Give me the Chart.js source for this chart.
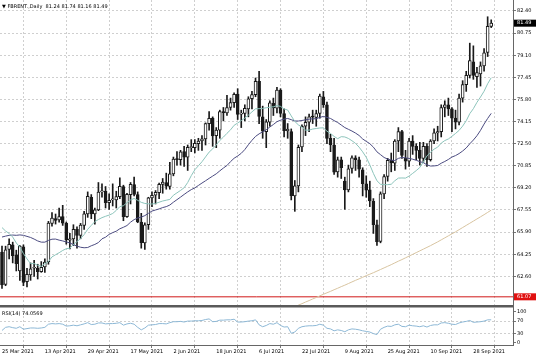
<!DOCTYPE html>
<html><head><meta charset="utf-8">
<script src="https://cdn.jsdelivr.net/npm/chart.js@4.4.0/dist/chart.umd.min.js"></script>
<style>
html,body{margin:0;padding:0;background:#fff;}
#wrap{position:relative;width:536px;height:357px;overflow:hidden;}
canvas{display:block;}
.lbl{position:absolute;font-family:'DejaVu Sans';font-size:5px;color:#000;white-space:pre;line-height:6px;}
</style></head><body>
<div id="wrap"><canvas id="c" width="536" height="357"></canvas>
<div class="lbl" id="t1" style="left:2px;top:3px;"></div>
<div class="lbl" id="t2" style="left:2px;top:310px;"></div>
</div>
<script>
const symbolTitle = '\u25BC FBRENT.,Daily';
const rsiTitle = 'RSI(14)';
const dates = ['25 Mar 2021','26 Mar 2021','29 Mar 2021','30 Mar 2021','31 Mar 2021','1 Apr 2021','5 Apr 2021','6 Apr 2021','7 Apr 2021','8 Apr 2021',
'9 Apr 2021','12 Apr 2021','13 Apr 2021','14 Apr 2021','15 Apr 2021','16 Apr 2021','19 Apr 2021','20 Apr 2021','21 Apr 2021','22 Apr 2021',
'23 Apr 2021','26 Apr 2021','27 Apr 2021','28 Apr 2021','29 Apr 2021','30 Apr 2021','3 May 2021','4 May 2021','5 May 2021','6 May 2021',
'7 May 2021','10 May 2021','11 May 2021','12 May 2021','13 May 2021','14 May 2021','17 May 2021','18 May 2021','19 May 2021','20 May 2021',
'21 May 2021','24 May 2021','25 May 2021','26 May 2021','27 May 2021','28 May 2021','31 May 2021','1 Jun 2021','2 Jun 2021','3 Jun 2021',
'4 Jun 2021','7 Jun 2021','8 Jun 2021','9 Jun 2021','10 Jun 2021','11 Jun 2021','14 Jun 2021','15 Jun 2021','16 Jun 2021','17 Jun 2021',
'18 Jun 2021','21 Jun 2021','22 Jun 2021','23 Jun 2021','24 Jun 2021','25 Jun 2021','28 Jun 2021','29 Jun 2021','30 Jun 2021','1 Jul 2021',
'2 Jul 2021','5 Jul 2021','6 Jul 2021','7 Jul 2021','8 Jul 2021','9 Jul 2021','12 Jul 2021','13 Jul 2021','14 Jul 2021','15 Jul 2021',
'16 Jul 2021','19 Jul 2021','20 Jul 2021','21 Jul 2021','22 Jul 2021','23 Jul 2021','26 Jul 2021','27 Jul 2021','28 Jul 2021','29 Jul 2021',
'30 Jul 2021','2 Aug 2021','3 Aug 2021','4 Aug 2021','5 Aug 2021','6 Aug 2021','9 Aug 2021','10 Aug 2021','11 Aug 2021','12 Aug 2021',
'13 Aug 2021','16 Aug 2021','17 Aug 2021','18 Aug 2021','19 Aug 2021','20 Aug 2021','23 Aug 2021','24 Aug 2021','25 Aug 2021','26 Aug 2021',
'27 Aug 2021','30 Aug 2021','31 Aug 2021','1 Sep 2021','2 Sep 2021','3 Sep 2021','6 Sep 2021','7 Sep 2021','8 Sep 2021','9 Sep 2021',
'10 Sep 2021','13 Sep 2021','14 Sep 2021','15 Sep 2021','16 Sep 2021','17 Sep 2021','20 Sep 2021','21 Sep 2021','22 Sep 2021','23 Sep 2021',
'24 Sep 2021','27 Sep 2021','28 Sep 2021','29 Sep 2021','30 Sep 2021','1 Oct 2021','4 Oct 2021','5 Oct 2021'];

const opens = [64.40,62.00,64.60,64.95,64.20,63.00,64.80,62.20,62.70,63.20,
63.20,62.95,63.30,63.70,66.55,66.90,66.80,67.05,66.55,65.30,
65.40,66.10,65.65,66.40,67.25,68.50,67.25,67.55,68.90,68.95,
68.10,68.30,68.30,68.55,69.30,67.05,68.70,69.45,68.70,66.65,
65.10,66.45,68.45,68.65,68.85,69.45,69.60,69.30,70.25,71.35,
71.30,71.90,71.50,72.20,72.20,72.50,72.70,72.85,74.00,74.40,
73.10,73.50,74.90,74.80,75.20,75.55,76.20,74.70,74.75,75.10,
75.85,76.15,77.15,74.50,73.40,74.10,75.50,75.15,76.50,74.75,
73.45,73.40,68.60,69.35,72.25,73.80,74.10,74.50,74.45,74.75,
76.00,75.40,72.90,72.40,70.40,71.30,69.70,69.05,70.65,71.45,
71.30,70.55,69.50,69.05,68.20,66.45,65.20,68.75,70.05,71.25,
71.05,72.70,73.40,71.40,71.20,72.70,72.30,72.00,71.40,72.30,
71.30,72.70,73.30,73.40,75.20,75.40,75.10,74.40,74.10,75.90,
76.90,77.60,78.60,77.50,77.70,78.30,79.30,81.24];
const highs = [64.85,64.85,65.40,65.15,64.55,64.90,64.95,63.20,63.60,63.80,
63.50,63.70,63.90,66.70,67.35,67.25,67.70,67.90,66.65,65.80,
66.45,66.30,66.55,67.45,68.90,68.70,67.70,69.60,69.50,69.30,
68.75,69.50,68.95,69.95,69.40,68.80,69.60,70.00,68.90,67.30,
66.60,68.50,68.90,69.00,69.55,69.90,70.30,71.10,71.50,71.90,
72.00,72.30,72.40,72.80,72.80,72.90,73.10,74.05,74.90,74.50,
73.70,75.00,75.20,76.10,75.90,76.30,76.60,75.00,75.40,76.00,
76.40,77.40,77.90,75.30,74.30,75.70,75.90,76.70,76.60,75.10,
74.00,73.60,69.75,72.40,73.90,74.50,74.70,75.00,75.00,76.20,
76.40,75.60,73.20,72.90,71.50,71.50,70.00,70.90,71.60,71.60,
71.50,70.70,70.10,69.70,68.40,66.80,68.90,70.20,71.40,71.80,
72.80,73.70,73.50,72.00,72.90,73.10,72.50,72.60,72.60,72.50,
72.80,73.60,73.80,75.40,75.70,75.90,75.20,75.00,76.20,77.20,
77.90,80.00,79.80,78.20,78.60,79.60,81.97,81.74];
const lows = [61.70,61.90,63.90,63.60,63.00,62.30,61.90,61.80,62.30,62.60,
62.40,62.90,62.90,63.50,66.35,66.50,66.65,66.40,65.00,64.65,
64.90,64.70,65.40,66.10,67.00,66.90,66.50,67.50,68.50,67.70,
67.60,67.85,67.70,68.40,66.75,67.00,68.00,68.60,66.60,64.70,
64.60,66.10,67.80,68.00,68.40,68.80,69.10,69.10,70.10,70.90,
70.90,70.80,70.50,71.90,71.80,72.00,72.00,72.40,73.50,72.30,
72.20,72.90,74.20,74.60,75.00,75.20,74.30,73.70,74.20,74.50,
75.10,76.00,74.00,72.90,72.20,73.80,74.60,74.80,74.50,73.00,
72.90,68.30,67.45,68.90,71.90,73.10,73.40,74.00,73.80,74.40,
75.20,72.50,71.90,70.20,70.00,69.90,67.60,68.90,70.30,70.50,
70.00,68.60,68.50,67.80,65.80,64.90,65.10,68.40,69.70,70.40,
70.50,71.90,71.40,70.60,70.80,71.70,71.30,70.90,71.10,70.80,
71.20,72.50,72.70,73.00,74.50,74.60,73.40,73.60,73.90,75.60,
76.40,77.40,77.30,76.70,76.80,77.90,79.00,81.16];
const closes = [61.95,64.57,64.98,64.14,63.54,64.86,62.15,62.74,63.16,63.20,
62.95,63.28,63.67,66.58,66.94,66.77,67.05,66.57,65.32,65.40,
66.11,65.65,66.42,67.27,68.56,67.25,67.56,68.88,68.96,68.09,
68.28,68.32,68.55,69.32,67.05,68.71,69.46,68.71,66.66,65.11,
66.44,68.46,68.65,68.87,69.46,69.63,69.32,70.25,71.35,71.31,
71.89,71.49,72.22,72.22,72.52,72.69,72.86,73.99,74.39,73.08,
73.51,74.90,74.81,75.19,75.56,76.18,74.68,74.76,75.13,75.84,
76.17,77.16,74.53,73.43,74.12,75.55,75.16,76.49,74.76,73.47,
73.59,68.62,69.35,72.23,73.79,74.10,74.50,74.48,74.74,76.05,
75.41,72.89,72.41,70.38,71.29,70.70,69.04,70.63,71.44,71.31,
70.59,69.51,69.03,68.23,66.45,65.18,68.75,70.05,71.25,71.07,
72.70,73.41,71.63,71.20,72.70,72.30,72.00,71.40,72.30,71.30,
72.70,73.30,73.40,75.20,75.40,75.10,74.40,74.10,75.90,76.90,
77.60,78.70,77.60,77.80,78.30,79.28,81.26,81.49];
const ma14 = [66.24,65.98,65.80,65.53,65.09,64.78,64.30,63.90,63.55,63.55,
63.43,63.34,63.54,63.70,64.05,64.21,64.36,64.53,64.66,64.70,
64.98,65.19,65.42,65.71,66.11,66.40,66.68,66.84,66.98,67.08,
67.17,67.29,67.52,67.80,67.87,68.09,68.30,68.41,68.27,68.12,
68.04,68.01,67.99,68.04,68.13,68.22,68.28,68.34,68.65,68.83,
69.01,69.21,69.60,70.11,70.55,70.85,71.15,71.51,71.87,72.11,
72.41,72.74,72.99,73.27,73.53,73.87,74.04,74.22,74.41,74.63,
74.87,75.10,75.11,75.13,75.18,75.22,75.25,75.34,75.28,75.09,
75.01,74.57,74.16,73.90,73.73,73.51,73.51,73.59,73.63,73.67,
73.68,73.43,73.26,73.04,72.87,73.02,73.00,72.89,72.72,72.52,
72.24,71.89,71.48,70.92,70.28,69.73,69.47,69.44,69.44,69.47,
69.73,69.93,69.94,69.93,70.08,70.28,70.49,70.72,71.14,71.58,
71.86,72.09,72.24,72.54,72.73,72.85,73.05,73.26,73.49,73.81,
74.21,74.74,75.11,75.58,75.98,76.41,76.97,77.42];
const ma30 = [65.53,65.60,65.66,65.68,65.66,65.69,65.66,65.58,65.50,65.38,
65.24,65.15,65.15,65.28,65.37,65.38,65.30,65.24,65.17,65.09,
64.97,64.85,64.77,64.73,64.75,64.88,64.98,65.12,65.40,65.52,
65.73,65.86,65.97,66.15,66.26,66.39,66.64,66.83,66.95,67.02,
67.13,67.30,67.47,67.55,67.63,67.73,67.80,67.92,68.13,68.32,
68.51,68.71,68.90,69.07,69.20,69.38,69.56,69.73,69.91,70.08,
70.25,70.47,70.68,70.87,71.16,71.41,71.58,71.78,72.06,72.42,
72.75,73.04,73.23,73.38,73.54,73.74,73.93,74.14,74.25,74.33,
74.38,74.29,74.19,74.19,74.23,74.28,74.33,74.35,74.36,74.46,
74.53,74.46,74.38,74.22,74.08,73.89,73.70,73.57,73.44,73.29,
73.11,72.85,72.67,72.50,72.24,71.89,71.68,71.47,71.35,71.27,
71.24,71.40,71.47,71.44,71.40,71.34,71.26,71.16,71.08,70.92,
70.83,70.84,70.87,71.04,71.17,71.32,71.50,71.61,71.76,71.95,
72.18,72.49,72.77,73.09,73.49,73.96,74.38,74.76];
const ma200 = [null,null,null,null,null,null,null,null,null,null,
null,null,null,null,null,null,null,null,null,null,
null,null,null,null,null,null,null,null,null,null,
null,null,null,null,null,null,null,null,null,null,
null,null,null,null,null,null,null,null,null,null,
null,null,null,null,null,null,null,null,null,null,
null,null,null,null,null,null,null,null,null,null,
null,null,null,null,null,null,null,null,59.87,59.99,
60.10,60.21,60.33,60.45,60.56,60.68,60.79,60.91,61.02,61.14,
61.26,61.37,61.48,61.60,61.71,61.83,61.94,62.06,62.18,62.30,
62.41,62.53,62.65,62.76,62.87,62.99,63.11,63.23,63.35,63.47,
63.60,63.73,63.85,63.98,64.11,64.24,64.37,64.50,64.63,64.76,
64.89,65.03,65.17,65.32,65.47,65.62,65.77,65.92,66.08,66.24,
66.40,66.56,66.72,66.88,67.04,67.20,67.37,67.54];
const rsi = [40,50,52,49,47,52,44,46,48,48,
47,48,50,60,62,61,62,60,54,55,
57,55,58,61,65,59,60,64,64,61,
62,62,63,65,57,61,63,60,50,42,
48,57,58,59,62,62,61,65,68,68,
69,67,70,70,71,71,72,75,77,68,
69,73,73,74,74,76,67,67,68,70,
71,74,58,52,56,62,60,65,56,51,
52,31,35,47,52,54,55,55,56,60,
57,47,45,39,42,40,36,42,45,44,
42,39,37,35,30,27,44,50,54,53,
58,60,53,52,57,55,54,52,55,51,
56,58,58,64,65,63,60,59,64,67,
69,72,66,67,68,70,74,74.0569];
const priceTicks = [82.40,80.75,79.10,77.45,75.80,74.15,72.50,70.85,69.20,67.55,65.90,64.25,62.60];
const rsiTicks = [100,70,30,0];
const rsiLevels = [70,30];
const alertLevel = 61.07;
const labelEvery = 12;

const N = closes.length;
const last = N - 1;
document.getElementById('t1').textContent = symbolTitle + '  ' + [opens[last],highs[last],lows[last],closes[last]].map(v=>v.toFixed(2)).join(' ');
document.getElementById('t2').textContent = rsiTitle + ' ' + rsi[last].toFixed(4);

const wicks=[], ups=[], downs=[];
for(let i=0;i<N;i++){
  wicks.push({x:i,y:[lows[i],highs[i]]});
  if(closes[i]>=opens[i]) ups.push({x:i,y:[opens[i],closes[i]]});
  else downs.push({x:i,y:[closes[i],opens[i]]});
}
const toXY = arr => arr.map((v,i)=>({x:i,y:v}));
const xMin = -0.56, xMax = 143.1;
const xTickIdx = dates.map((d,i)=>i).filter(i=>i%labelEvery===0);

Chart.defaults.font.family = 'DejaVu Sans';
Chart.defaults.font.size = 5;
Chart.defaults.color = '#000';

const overlay = {
  id:'overlay',
  afterDraw(chart){
    const ctx = chart.ctx, a = chart.chartArea, y = chart.scales.y, yr = chart.scales.yr;
    ctx.save();
    ctx.fillStyle = '#5a5a5a';
    ctx.fillRect(0, yr.top, a.right, 2.5);
    const box = (v, bg) => {
      const py = y.getPixelForValue(v);
      ctx.fillStyle = bg;
      ctx.fillRect(a.right + 1, py - 3.5, chart.width - a.right - 1, 7);
      ctx.fillStyle = '#fff';
      ctx.font = '5px DejaVu Sans';
      ctx.textBaseline = 'middle';
      ctx.textAlign = 'left';
      ctx.fillText(v.toFixed(2), a.right + 4, py);
    };
    box(closes[last], '#000');
    box(alertLevel, '#e01010');
    ctx.restore();
  }
};

new Chart(document.getElementById('c'), {
  type: 'bar',
  data: {
    datasets: [
      {type:'line', data: toXY(ma14), borderColor:'#8cc4bb', borderWidth:1, pointRadius:0, yAxisID:'y', order:0},
      {type:'line', data: toXY(ma30), borderColor:'#4b4b80', borderWidth:1, pointRadius:0, yAxisID:'y', order:0},
      {type:'line', data: toXY(ma200), borderColor:'#d8c4a0', borderWidth:1, pointRadius:0, yAxisID:'y', order:0},
      {type:'line', data: [{x:xMin,y:alertLevel},{x:xMax,y:alertLevel}], borderColor:'#d01818', borderWidth:1, pointRadius:0, yAxisID:'y', order:0},
      {type:'line', data: toXY(rsi), borderColor:'#8db8d6', borderWidth:1, pointRadius:0, yAxisID:'yr', order:0},
      {type:'bar', data: wicks, backgroundColor:'#1a1a1a', barThickness:1, grouped:false, yAxisID:'y', order:3},
      {type:'bar', data: ups, backgroundColor:'#fff', borderColor:'#1a1a1a', borderWidth:1, borderSkipped:false, barThickness:3, minBarLength:1, grouped:false, yAxisID:'y', order:2},
      {type:'bar', data: downs, backgroundColor:'#1a1a1a', borderColor:'#1a1a1a', borderWidth:1, borderSkipped:false, barThickness:3, minBarLength:1, grouped:false, yAxisID:'y', order:2}
    ]
  },
  options: {
    responsive:false, animation:false, events:[],
    layout:{padding:0},
    plugins:{legend:{display:false}, tooltip:{enabled:false}},
    scales:{
      x:{type:'linear', position:'bottom', min:xMin, max:xMax, offset:false,
        afterBuildTicks(s){ s.ticks = xTickIdx.map(v=>({value:v})); },
        afterFit(s){ s.height = 12; s.paddingLeft = 0; s.paddingRight = 0; },
        ticks:{autoSkip:false, maxRotation:0, align:'start', padding:1, callback:(v)=>dates[v], color:'#000'},
        grid:{color:'#cfcfcf', tickLength:3, tickColor:'#777'},
        border:{display:true, color:'#666', width:1, dash:[2,2]}
      },
      y:{type:'linear', position:'right', stack:'p', stackWeight:305, min:60.46, max:83.22,
        afterBuildTicks(s){ s.ticks = priceTicks.map(v=>({value:v})); },
        afterFit(s){ s.width = 23; s.paddingTop = 0; s.paddingBottom = 0; },
        ticks:{autoSkip:false, padding:1, callback:(v)=>v.toFixed(2), color:'#000'},
        grid:{color:'#cfcfcf', tickLength:3, tickColor:'#777'},
        border:{display:true, color:'#666', width:1, dash:[2,2]}
      },
      yr:{type:'linear', position:'right', stack:'p', stackWeight:40, min:-6.4, max:121.4,
        afterBuildTicks(s){ s.ticks = rsiTicks.map(v=>({value:v})); },
        afterFit(s){ s.width = 23; s.paddingTop = 0; s.paddingBottom = 0; },
        ticks:{autoSkip:false, padding:1, callback:(v)=>String(v), color:'#000'},
        grid:{color:(c)=> rsiLevels.includes(c.tick && c.tick.value) ? '#cfcfcf' : 'rgba(0,0,0,0)', tickLength:3, tickColor:'#777'},
        border:{display:true, color:'#666', width:1, dash:[2,2]}
      }
    }
  },
  plugins:[overlay]
});
</script>
</body></html>
